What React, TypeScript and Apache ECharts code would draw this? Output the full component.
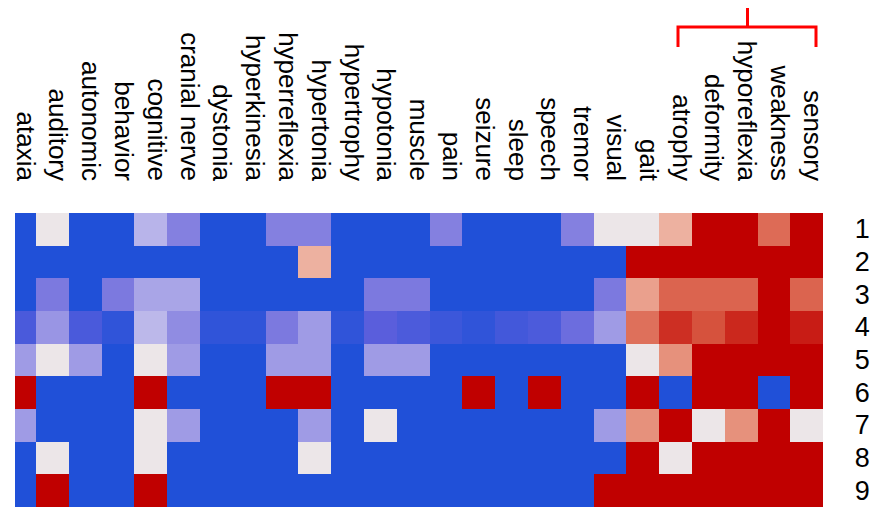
import React, { useEffect, useRef } from "react";
import * as echarts from "echarts";

// Symptom categories (columns) and patient groups (rows)
const symptoms = [
  "ataxia", "auditory", "autonomic", "behavior", "cognitive", "cranial nerve",
  "dystonia", "hyperkinesia", "hyperreflexia", "hypertonia", "hypertrophy",
  "hypotonia", "muscle", "pain", "seizure", "sleep", "speech", "tremor",
  "visual", "gait", "atrophy", "deformity", "hyporeflexia", "weakness", "sensory",
];
const rowLabels = ["1", "2", "3", "4", "5", "6", "7", "8", "9"];

// Scores per row, one value per symptom, on a -1 .. 1 scale
const row1 = [-1, 0, -1, -1, -0.25, -0.5, -1, -1, -0.5, -0.5, -1, -1, -1, -0.5, -1, -1, -1, -0.5, 0, 0, 0.27, 1, 1, 0.62, 1];
const row2 = [-1, -1, -1, -1, -1, -1, -1, -1, -1, 0.27, -1, -1, -1, -1, -1, -1, -1, -1, -1, 1, 1, 1, 1, 1, 1];
const row3 = [-1, -0.55, -1, -0.55, -0.32, -0.32, -1, -1, -1, -1, -1, -0.55, -0.55, -1, -1, -1, -1, -1, -0.55, 0.37, 0.65, 0.65, 0.65, 1, 0.65];
const row4 = [-0.82, -0.4, -0.82, -0.93, -0.23, -0.44, -0.93, -0.93, -0.55, -0.37, -0.93, -0.75, -0.81, -0.88, -0.93, -0.85, -0.81, -0.64, -0.37, 0.6, 0.84, 0.72, 0.865, 1, 0.905];
const row5 = [-0.37, 0, -0.37, -1, 0, -0.37, -1, -1, -0.37, -0.37, -1, -0.37, -0.37, -1, -1, -1, -1, -1, -1, 0, 0.46, 1, 1, 1, 1];
const row6 = [1, -1, -1, -1, 1, -1, -1, -1, 1, 1, -1, -1, -1, -1, 1, -1, 1, -1, -1, 1, -1, 1, 1, -1, 1];
const row7 = [-0.37, -1, -1, -1, 0, -0.37, -1, -1, -1, -0.37, -1, 0, -1, -1, -1, -1, -1, -1, -0.37, 0.46, 1, 0, 0.46, 1, 0];
const row8 = [-1, 0, -1, -1, 0, -1, -1, -1, -1, 0, -1, -1, -1, -1, -1, -1, -1, -1, -1, 1, 0, 1, 1, 1, 1];
const row9 = [-1, 1, -1, -1, 1, -1, -1, -1, -1, -1, -1, -1, -1, -1, -1, -1, -1, -1, 1, 1, 1, 1, 1, 1, 1];

const rows = [row1, row2, row3, row4, row5, row6, row7, row8, row9];

// Diverging blue - white - red ramp, evenly spaced over -1 .. 1
const palette = [
  "#2050d8", "#5a5edc", "#8480e0", "#b8b4ea", "#ece6e8",
  "#eeb4a4", "#e58a74", "#d44a36", "#c00000",
];

const FONT = "'Liberation Sans', Arial, Helvetica, sans-serif";

export default function App() {
  const ref = useRef<HTMLDivElement>(null);

  useEffect(() => {
    if (!ref.current) return;
    const chart = echarts.init(ref.current, null, { renderer: "svg" });

    const cells: [number, number, number][] = [];
    rows.forEach((r, yi) => r.forEach((v, xi) => cells.push([xi, yi, v])));

    const gridLeft = 3.2;
    const gridTop = 213;
    const gridWidth = 820.1;
    const gridHeight = 294.3;
    // column titles sit slightly right of the cell centres
    const labelShift = 6;

    chart.setOption({
      animation: false,
      backgroundColor: "#ffffff",
      grid: [
        { left: gridLeft, top: gridTop, width: gridWidth, height: gridHeight },
        { left: gridLeft + labelShift, top: gridTop, width: gridWidth, height: gridHeight },
      ],
      xAxis: [
        {
          type: "category",
          gridIndex: 0,
          position: "top",
          data: symptoms,
          axisLine: { show: false },
          axisTick: { show: false },
          axisLabel: { show: false },
        },
        {
          type: "category",
          gridIndex: 1,
          position: "top",
          data: symptoms,
          axisLine: { show: false },
          axisTick: { show: false },
          axisLabel: {
            rotate: 90,
            interval: 0,
            margin: 32,
            fontSize: 26,
            fontFamily: FONT,
            color: "#000",
          },
        },
      ],
      yAxis: [
        {
          type: "category",
          gridIndex: 0,
          position: "right",
          inverse: true,
          data: rowLabels,
          axisLine: { show: false },
          axisTick: { show: false },
          axisLabel: {
            interval: 0,
            margin: 39,
            align: "center",
            fontSize: 27,
            fontFamily: FONT,
            color: "#000",
          },
        },
        {
          type: "category",
          gridIndex: 1,
          data: rowLabels,
          show: false,
        },
      ],
      visualMap: {
        show: false,
        type: "continuous",
        dimension: 2,
        seriesIndex: 0,
        min: -1,
        max: 1,
        inRange: { color: palette },
      },
      series: [
        {
          // one filled cell per (symptom, row), edges snapped to whole pixels
          type: "custom",
          xAxisIndex: 0,
          yAxisIndex: 0,
          data: cells,
          encode: { x: 0, y: 1 },
          renderItem: (_params: any, api: any) => {
            const c = api.coord([api.value(0), api.value(1)]);
            const s = api.size([1, 1]);
            const x0 = Math.round(c[0] - s[0] / 2);
            const x1 = Math.round(c[0] + s[0] / 2);
            const y0 = Math.round(c[1] - s[1] / 2);
            const y1 = Math.round(c[1] + s[1] / 2);
            return {
              type: "rect",
              shape: { x: x0, y: y0, width: x1 - x0, height: y1 - y0 },
              style: { fill: api.visual("color") },
            };
          },
        },
      ],
      graphic: [
        // left margin trims the first column
        {
          type: "rect",
          z: 100,
          shape: { x: 0, y: 200, width: 15, height: 310 },
          style: { fill: "#ffffff" },
        },
        // cluster bracket over the last five symptoms
        {
          type: "polyline",
          z: 100,
          shape: { points: [[678, 47], [678, 27], [816, 27], [816, 47]] },
          style: { stroke: "#ff0000", lineWidth: 3, fill: "none" },
        },
        {
          type: "line",
          z: 100,
          shape: { x1: 747.5, y1: 8, x2: 747.5, y2: 27 },
          style: { stroke: "#ff0000", lineWidth: 3 },
        },
      ],
    });

    return () => chart.dispose();
  }, []);

  return (
    <div
      ref={ref}
      style={{ position: "absolute", left: 0, top: 0, width: 873, height: 507 }}
    />
  );
}
